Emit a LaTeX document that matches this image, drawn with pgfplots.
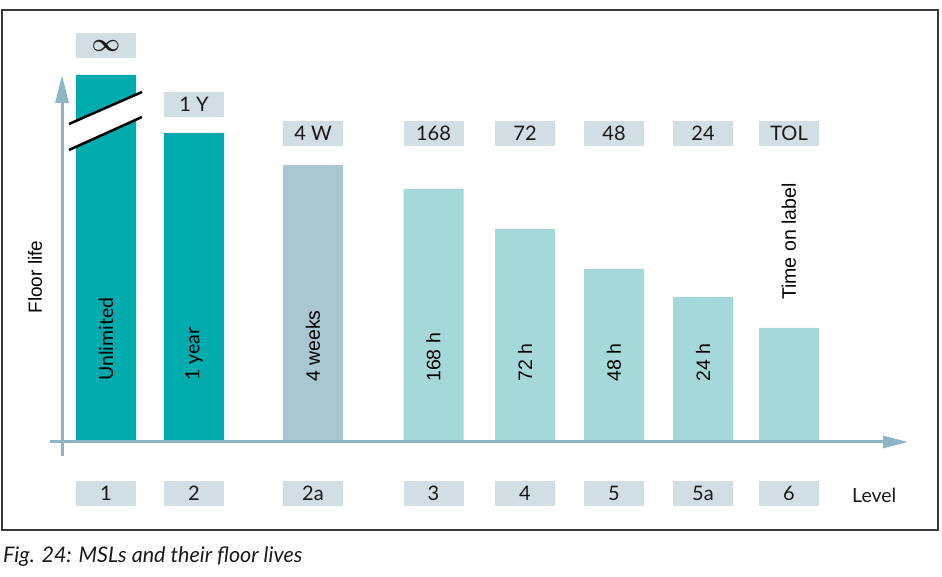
\documentclass[border=0pt]{standalone}
\usepackage{pgfplots}
\pgfplotsset{compat=1.18}
\usepackage{fontspec}
\setmainfont{Liberation Sans}
\newfontfamily\gill{Lato}
\usetikzlibrary{arrows.meta}
\definecolor{tealdark}{HTML}{00ABAE}
\definecolor{graybl}{HTML}{A9C7D1}
\definecolor{tealight}{HTML}{A5D9D9}
\definecolor{boxc}{HTML}{D1DEE4}
\definecolor{axc}{HTML}{8CB6C3}
\definecolor{framec}{HTML}{3A3A3A}
\begin{document}
\begin{tikzpicture}
\begin{axis}[
  at={(0,0)}, anchor=south west,
  scale only axis, width=942pt, height=577pt,
  xmin=0, xmax=942, ymin=-136, ymax=441,
  hide axis, clip=false,
  ybar, bar width=60, bar shift=0pt,
]
\path (axis cs:0,-136) rectangle (axis cs:942,441);
% frame
\draw[framec, line width=1.5pt] (axis cs:2,-89) rectangle (axis cs:938,431);
% bars
\addplot[fill=tealdark, draw=none] coordinates {(106,366) (194,308)};
\addplot[fill=graybl, draw=none] coordinates {(313,276)};
\addplot[fill=tealight, draw=none] coordinates {(433.5,252) (525,212) (614,172) (703,144) (789,113)};
% axes arrows
\draw[axc, line width=3pt, -{Triangle[length=28pt,width=13pt]}] (axis cs:62,-15) -- (axis cs:62,366);
\draw[axc, line width=3pt, -{Triangle[length=25pt,width=12pt]}] (axis cs:50,-1) -- (axis cs:908,-1);
% break marks
\fill[white] (axis cs:69,317) -- (axis cs:142,349) -- (axis cs:142,324) -- (axis cs:69,291) -- cycle;
\draw[black, line width=2.5pt] (axis cs:69,317) -- (axis cs:142,349);
\draw[black, line width=2.5pt] (axis cs:69,291) -- (axis cs:142,324);
% top boxes
\tikzset{bx/.style={fill=boxc, minimum width=60pt, minimum height=25pt, inner sep=0pt, text=black!90, font=\gill\fontsize{20}{21}\selectfont}}
\node[bx, font=\fontsize{27}{27}\selectfont\boldmath] at (axis cs:106,395.5) {$\infty$};
\node[bx] at (axis cs:194,336.5) {1 Y};
\node[bx] at (axis cs:313,307.5) {4 W};
\node[bx] at (axis cs:433.5,307.5) {168};
\node[bx] at (axis cs:525,307.5) {72};
\node[bx] at (axis cs:614,307.5) {48};
\node[bx] at (axis cs:703,307.5) {24};
\node[bx] at (axis cs:789,307.5) {TOL};
% bottom boxes
\node[bx] at (axis cs:106,-52.5) {1};
\node[bx] at (axis cs:194,-52.5) {2};
\node[bx] at (axis cs:313,-52.5) {2a};
\node[bx] at (axis cs:433.5,-52.5) {3};
\node[bx] at (axis cs:525,-52.5) {4};
\node[bx] at (axis cs:614,-52.5) {5};
\node[bx] at (axis cs:703,-52.5) {5a};
\node[bx] at (axis cs:789,-52.5) {6};
\node[font=\gill\fontsize{19.5}{20}\selectfont, anchor=west, inner sep=0pt, text=black!90] at (axis cs:852,-54) {Level};
% rotated texts
\tikzset{rt/.style={rotate=90, anchor=west, inner sep=0pt, font=\fontsize{19.5}{20}\selectfont}}
\node[rt, font=\gill\fontsize{19.5}{20}\selectfont] at (axis cs:106,60) {Unlimited};
\node[rt, font=\gill\fontsize{19.5}{20}\selectfont] at (axis cs:194,60) {1 year};
\node[rt] at (axis cs:313,59) {4 weeks};
\node[rt] at (axis cs:433.5,59) {168 h};
\node[rt] at (axis cs:525,59) {72 h};
\node[rt] at (axis cs:614,59) {48 h};
\node[rt] at (axis cs:703,59) {24 h};
\node[rt] at (axis cs:789,141) {Time on label};
\node[rotate=90, inner sep=0pt, font=\fontsize{19}{20}\selectfont] at (axis cs:35,164) {Floor life};
% caption
\node[anchor=west, inner sep=0pt, font=\gill\itshape\fontsize{21.5}{23}\selectfont, text=black!90] at (axis cs:3,-116) {Fig. 24: MSLs and their floor lives};
\end{axis}
\end{tikzpicture}
\end{document}
